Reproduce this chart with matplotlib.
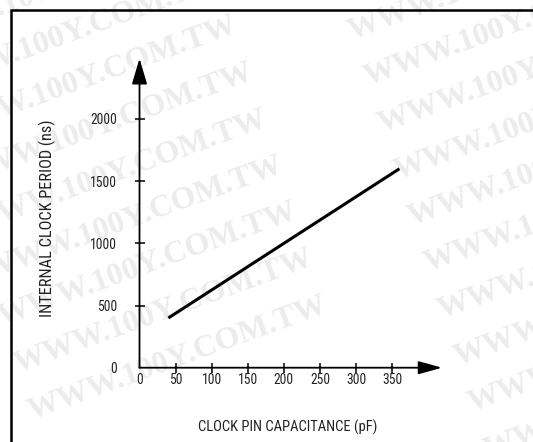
import matplotlib
matplotlib.use("Agg")
import matplotlib.pyplot as plt
from matplotlib.patches import Rectangle

# ---- data ----
capacitance_pf = [40, 360]
clock_period_ns = [400, 1600]
x_ticks = [0, 50, 100, 150, 200, 250, 300, 350]
y_ticks = [0, 500, 1000, 1500, 2000]
x_label = "CLOCK PIN CAPACITANCE (pF)"
y_label = "INTERNAL CLOCK PERIOD (ns)"
watermark = "WWW.100Y.COM.TW"

FONT = ["Roboto Condensed", "Archivo Narrow", "Liberation Sans"]
FS = 11
TXT = "#222222"

W, H = 533, 442
fig = plt.figure(figsize=(W / 100, H / 100), dpi=100)
fig.patch.set_facecolor("white")

# watermark (behind everything)
wm = dict(family="Liberation Serif", weight="bold", fontsize=23,
          color="#ececec", rotation=20, rotation_mode="anchor",
          ha="left", va="baseline", zorder=-5)
for j in range(-8, 2):
    fig.text((17 + 15 * j) / W, 1 - (373 + 46.5 * j) / H, watermark, **wm)
for k in range(-1, 10):
    fig.text((352 + 15 * k) / W, 1 - (40 + 46.5 * k) / H, watermark, **wm)

# frame
fig.patches.append(Rectangle((11 / W, -0.1), 1.2, 1 - 9.7 / H + 0.1,
                             transform=fig.transFigure, fill=False,
                             lw=1.8, ec="black", zorder=-1))

x0, y0, x1, y1 = 139.5, 367.7, 442.0, 58.5
ax = fig.add_axes([x0 / W, 1 - y0 / H, (x1 - x0) / W, (y0 - y1) / H])
ax.set_zorder(1)
ax.patch.set_alpha(0)
ax.set_xlim(0, (x1 - x0) / 0.7220)
ax.set_ylim(0, (y0 - y1) / 0.12435)
for s in ax.spines.values():
    s.set_visible(False)

ax.plot(capacitance_pf, clock_period_ns, color="black", lw=2.2,
        solid_capstyle="butt", clip_on=False)

ax.annotate("", xy=(1, 0), xytext=(0, 0), xycoords="axes fraction",
            arrowprops=dict(arrowstyle="-|>,head_length=1.44,head_width=0.4",
                            mutation_scale=10, lw=1.3, color="black",
                            shrinkA=0, shrinkB=0))
ax.annotate("", xy=(0, 1), xytext=(0, 0), xycoords="axes fraction",
            arrowprops=dict(arrowstyle="-|>,head_length=1.58,head_width=0.47",
                            mutation_scale=10, lw=1.3, color="black",
                            shrinkA=0, shrinkB=0))

ax.set_xticks(x_ticks)
ax.set_xticklabels([str(v) for v in x_ticks])
ax.set_yticks(y_ticks)
ax.set_yticklabels([str(v) for v in y_ticks])
ax.tick_params(axis="both", direction="inout", length=7, width=1.1,
               color="black", labelsize=FS, labelcolor=TXT)
ax.tick_params(axis="x", pad=0.3)
ax.tick_params(axis="y", pad=12.7)
ax.xaxis.get_major_ticks()[0].tick1line.set_visible(False)
ax.yaxis.get_major_ticks()[0].tick1line.set_visible(False)
for lab in ax.get_xticklabels() + ax.get_yticklabels():
    lab.set_family(FONT)

ax.set_xlabel(x_label, family=FONT, fontsize=FS, color=TXT)
ax.set_ylabel(y_label, family=FONT, fontsize=FS, color=TXT)
ax.xaxis.label.set_va("center")
ax.yaxis.label.set_va("center")
ax.xaxis.set_label_coords((287.4 - x0) / (x1 - x0), (y0 - 427) / (y0 - y1))
ax.yaxis.set_label_coords((47 - x0) / (x1 - x0), (y0 - 218) / (y0 - y1))

# fit text sizes to the reference's measured text extents (pixels)
fig.canvas.draw()
r = fig.canvas.get_renderer()
wx = ax.xaxis.label.get_window_extent(r).width
hy = ax.yaxis.label.get_window_extent(r).height
ax.xaxis.label.set_fontsize(FS * 180.0 / wx)
ax.yaxis.label.set_fontsize(FS * 197.0 / hy)
w2000 = ax.get_yticklabels()[-1].get_window_extent(r).width
tfs = FS * 27.0 / w2000
ax.tick_params(axis="both", labelsize=tfs)

fig.savefig("out.png", dpi=100, facecolor="white")
